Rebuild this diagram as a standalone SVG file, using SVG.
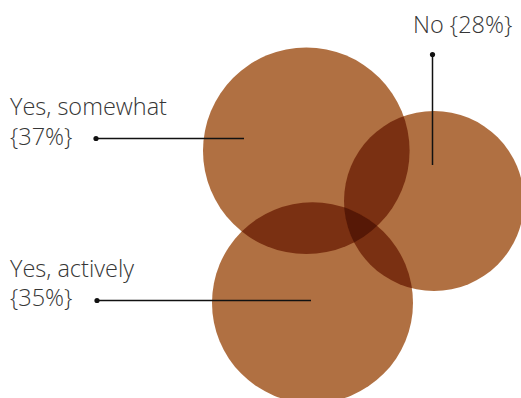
<svg xmlns="http://www.w3.org/2000/svg" width="521" height="398" viewBox="0 0 521 398">
  <style>
    .lbl { font-family: "Open Sans", "Liberation Sans", sans-serif; font-weight: 300; font-size: 23.5px; fill: #363636; }
    .single { fill: #B07042; }
    .double { fill: #7A3012; }
    .triple { fill: #561806; }
    .lead { stroke: #111; stroke-width: 1.5; fill: none; }
    .dot { fill: #111; }
  </style>
  <defs>
    <clipPath id="clipA"><circle cx="306.3" cy="150.8" r="103.3"/></clipPath>
    <clipPath id="clipB"><circle cx="434" cy="201" r="90"/></clipPath>
    <clipPath id="clipC"><circle cx="312.5" cy="302.8" r="100.5"/></clipPath>
  </defs>
  <rect width="521" height="398" fill="#ffffff"/>
  <g id="venn">
    <g id="node-somewhat"><circle class="single" cx="306.3" cy="150.8" r="103.3"/></g>
    <g id="node-no"><circle class="single" cx="434" cy="201" r="90"/></g>
    <g id="node-actively"><circle class="single" cx="312.5" cy="302.8" r="100.5"/></g>
    <g id="overlaps">
      <circle class="double" cx="434" cy="201" r="90" clip-path="url(#clipA)"/>
      <circle class="double" cx="312.5" cy="302.8" r="100.5" clip-path="url(#clipA)"/>
      <circle class="double" cx="312.5" cy="302.8" r="100.5" clip-path="url(#clipB)"/>
      <g clip-path="url(#clipA)">
        <circle class="triple" cx="312.5" cy="302.8" r="100.5" clip-path="url(#clipB)"/>
      </g>
    </g>
  </g>
  <g id="connectors">
    <line class="lead" x1="96" y1="138.5" x2="244" y2="138.5"/>
    <circle class="dot" cx="96" cy="138.5" r="2.6"/>
    <line class="lead" x1="97" y1="300.5" x2="311" y2="300.5"/>
    <circle class="dot" cx="97" cy="300.5" r="2.6"/>
    <line class="lead" x1="432.5" y1="54.5" x2="432.5" y2="165"/>
    <circle class="dot" cx="432.5" cy="54.5" r="2.6"/>
  </g>
  <g id="label-somewhat">
    <text class="lbl" x="10" y="115">Yes, somewhat</text>
    <text class="lbl" x="10" y="144.5">{37%}</text>
  </g>
  <g id="label-actively">
    <text class="lbl" x="10" y="276.5">Yes, actively</text>
    <text class="lbl" x="10" y="306">{35%}</text>
  </g>
  <g id="label-no">
    <text class="lbl" x="413" y="33">No {28%}</text>
  </g>
</svg>
